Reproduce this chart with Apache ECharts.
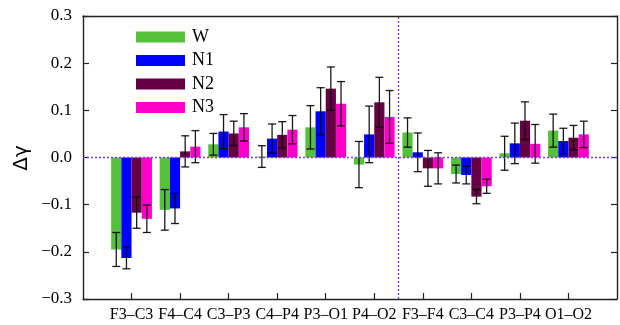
<!DOCTYPE html>
<html>
<head>
<meta charset="utf-8">
<script src="https://cdn.jsdelivr.net/npm/echarts@6/dist/echarts.min.js"></script>
<style>
html,body{margin:0;padding:0;background:#fff;}
#chart{width:620px;height:325px;}
</style>
</head>
<body>
<div id="chart"></div>
<script>
var categories = ['F3\u2013C3','F4\u2013C4','C3\u2013P3','C4\u2013P4','P3\u2013O1','P4\u2013O2','F3\u2013F4','C3\u2013C4','P3\u2013P4','O1\u2013O2'];
var seriesNames = ['W','N1','N2','N3'];
var W      = [-0.195, -0.111, 0.028, 0.002, 0.064, -0.015, 0.053, -0.035, 0.009, 0.057];
var W_err  = [ 0.036,  0.043, 0.023, 0.023, 0.046,  0.049, 0.031,  0.019, 0.036, 0.035];
var N1     = [-0.213, -0.108, 0.055, 0.040, 0.098,  0.049, 0.011, -0.037, 0.030, 0.035];
var N1_err = [ 0.023,  0.032, 0.036, 0.031, 0.050,  0.060, 0.041,  0.019, 0.043, 0.027];
var N2     = [-0.117,  0.013, 0.051, 0.048, 0.146,  0.117, -0.023, -0.083, 0.078, 0.042];
var N2_err = [ 0.033,  0.033, 0.026, 0.028, 0.046,  0.053, 0.038,  0.015, 0.040, 0.026];
var N3     = [-0.130,  0.023, 0.064, 0.059, 0.114,  0.086, -0.023, -0.061, 0.029, 0.049];
var N3_err = [ 0.029,  0.034, 0.029, 0.030, 0.047,  0.056, 0.033,  0.015, 0.041, 0.028];
var yTicks = [-0.3, -0.2, -0.1, 0.0, 0.1, 0.2, 0.3];

var values = [W, N1, N2, N3];
var errs = [W_err, N1_err, N2_err, N3_err];
var colors = ['#55C13A', '#0000FF', '#660044', '#FF00CC'];
var BW = 0.21;
var serifFont = 'Liberation Serif';

var chart = echarts.init(document.getElementById('chart'), null, {renderer: 'canvas'});

function makeSeries(k) {
  var data = values[k].map(function (v, i) { return [i, v, errs[k][i]]; });
  return {
    name: seriesNames[k],
    type: 'custom',
    xAxisIndex: 0,
    yAxisIndex: 0,
    itemStyle: {color: colors[k]},
    data: data,
    encode: {x: 0, y: 1},
    renderItem: function (params, api) {
      var i = api.value(0), v = api.value(1), e = api.value(2);
      var xc = i + (k - 1.5) * BW;
      var top = api.coord([xc, v]);
      var base = api.coord([xc, 0]);
      var w = api.size([BW, 0])[0];
      var hi = api.coord([xc, v + e]);
      var lo = api.coord([xc, v - e]);
      var cap = 4;
      var ls = {stroke: 'rgba(0,0,0,0.9)', lineWidth: 1.3};
      return {
        type: 'group',
        children: [
          {type: 'rect', shape: {x: top[0] - w / 2, y: Math.min(top[1], base[1]), width: w, height: Math.abs(base[1] - top[1])},
           style: {fill: colors[k]}},
          {type: 'line', shape: {x1: hi[0], y1: hi[1], x2: lo[0], y2: lo[1]}, style: ls},
          {type: 'line', shape: {x1: hi[0] - cap, y1: hi[1], x2: hi[0] + cap, y2: hi[1]}, style: ls},
          {type: 'line', shape: {x1: lo[0] - cap, y1: lo[1], x2: lo[0] + cap, y2: lo[1]}, style: ls}
        ]
      };
    }
  };
}

var series = [0,1,2,3].map(makeSeries);
series.push({
  type: 'line',
  data: [],
  silent: true,
  markLine: {
    silent: true,
    symbol: 'none',
    label: {show: false},
    lineStyle: {color: '#7F3FE0', type: [2, 2], width: 1.4},
    data: [{yAxis: 0}, {xAxis: 5.5}]
  }
});

var axisLineStyle = {color: '#222', width: 1.4};

var option = {
  animation: false,
  backgroundColor: '#fff',
  grid: {left: 83, right: 3, top: 16, bottom: 26, containLabel: false},
  legend: {
    orient: 'vertical',
    left: 136,
    top: 28,
    itemWidth: 49,
    itemHeight: 11,
    itemGap: 5.5,
    icon: 'rect',
    padding: 0,
    data: seriesNames,
    textStyle: {fontFamily: serifFont, fontSize: 18, color: '#000', padding: [0, 0, 0, 2]}
  },
  xAxis: [
    {
      type: 'value', min: -1, max: 10, interval: 1, position: 'bottom',
      axisLine: {show: true, onZero: false, lineStyle: axisLineStyle},
      axisTick: {show: true, inside: true, length: 6, lineStyle: {color: '#222', width: 1.2}, customValues: [0,1,2,3,4,5,6,7,8,9]},
      axisLabel: {
        show: true, margin: 8, color: '#000', fontFamily: serifFont, fontSize: 16,
        customValues: [0,1,2,3,4,5,6,7,8,9],
        formatter: function (v) { return categories[Math.round(v)] || ''; }
      },
      splitLine: {show: false}
    },
    {
      type: 'value', min: -1, max: 10, position: 'top',
      axisLine: {show: true, onZero: false, lineStyle: axisLineStyle},
      axisTick: {show: false}, axisLabel: {show: false}, splitLine: {show: false}
    }
  ],
  yAxis: [
    {
      type: 'value', min: -0.3, max: 0.3, interval: 0.1, position: 'left',
      axisLine: {show: true, onZero: false, lineStyle: axisLineStyle},
      axisTick: {show: true, inside: true, length: 6, lineStyle: {color: '#222', width: 1.2}},
      axisLabel: {
        show: true, margin: 11, color: '#000', fontFamily: serifFont, fontSize: 17,
        customValues: yTicks,
        formatter: function (v) { var s = Math.abs(v) < 1e-9 ? '0.0' : Math.abs(v).toFixed(1); return (v < -1e-9 ? '\u2212' : '') + s; }
      },
      splitLine: {show: false}
    },
    {
      type: 'value', min: -0.3, max: 0.3, interval: 0.1, position: 'right',
      axisLine: {show: true, onZero: false, lineStyle: axisLineStyle},
      axisTick: {show: true, inside: true, length: 6, lineStyle: {color: '#222', width: 1.2}},
      axisLabel: {show: false}, splitLine: {show: false}
    }
  ],
  graphic: [{
    type: 'text',
    x: 22, y: 158,
    rotation: Math.PI / 2,
    style: {text: '\u0394\u03B3', fontFamily: 'DejaVu Sans', fontSize: 20, fill: '#000', align: 'center', verticalAlign: 'middle'}
  }],
  series: series
};
chart.setOption(option);
</script>
</body>
</html>
